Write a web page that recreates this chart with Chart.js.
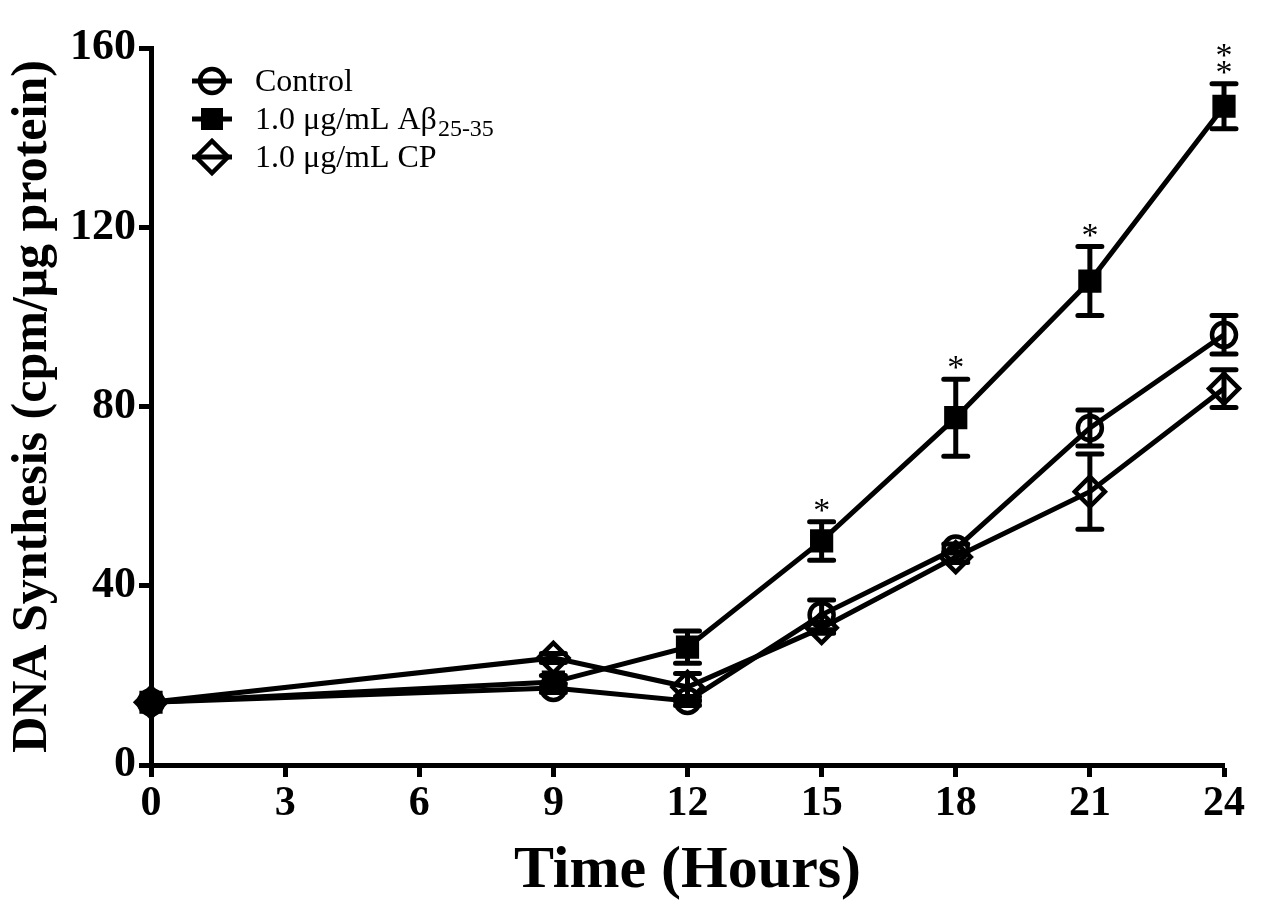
<!DOCTYPE html>
<html><head><meta charset="utf-8">
<script src="https://cdn.jsdelivr.net/npm/chart.js@4.4.1/dist/chart.umd.min.js"></script>
<style>html,body{margin:0;padding:0;background:#fff;} #wrap{width:1267px;height:917px;position:relative;}</style>
</head><body><div id="wrap"><canvas id="c" width="1267" height="917"></canvas></div>
<script>
// ---- data ----
const hours = [0, 9, 12, 15, 18, 21, 24];
const xTickValues = [0, 3, 6, 9, 12, 15, 18, 21, 24];
const yTickValues = [0, 40, 80, 120, 160];
const controlMean = [14, 17.2, 14.3, 33.5, 48.3, 75.2, 96];
const controlErr  = [0, 1, 1, 3.3, 1, 4, 4.3];
const abetaMean   = [14, 18.5, 26.3, 50, 77.5, 108, 147];
const abetaErr    = [0, 1.5, 3.6, 4.3, 8.6, 7.7, 5];
const cpMean      = [14, 23.9, 17.4, 30.6, 46.4, 61, 84];
const cpErr       = [0, 1, 3, 1.2, 1.2, 8.4, 4.2];
const abetaStars  = [0, 0, 0, 1, 1, 1, 2];
const seriesNames = ['Control', '1.0 \u03bcg/mL A\u03b2', '1.0 \u03bcg/mL CP'];
const abetaSubscript = '25-35';
const xTitle = 'Time (Hours)';
const yTitle = 'DNA Synthesis (cpm/\u03bcg protein)';

const FONT = '"Liberation Serif","Times New Roman",serif';
const LW = 5;
function pts(ys){ return hours.map((h,i)=>({x:h, y:ys[i]})); }

const datasets = [
  {label: seriesNames[0], data: pts(controlMean), err: controlErr, pointStyle:'circle', pointRadius:12,
   pointBorderWidth:4.5, pointBackgroundColor:'rgba(0,0,0,0)', pointBorderColor:'#000', borderColor:'#000', borderWidth:LW, clip:false},
  {label: seriesNames[1], data: pts(abetaMean), err: abetaErr, stars: abetaStars, pointStyle:'rect', pointRadius:15,
   pointBorderWidth:2, pointBackgroundColor:'#000', pointBorderColor:'#000', borderColor:'#000', borderWidth:LW, clip:false},
  {label: seriesNames[2], data: pts(cpMean), err: cpErr, pointStyle:'rectRot', pointRadius:15,
   pointBorderWidth:4.5, pointBackgroundColor:'rgba(0,0,0,0)', pointBorderColor:'#000', borderColor:'#000', borderWidth:LW, clip:false}
];

const errorBars = {
  id:'errorBars',
  beforeDatasetsDraw(chart){
    const ctx = chart.ctx, xs = chart.scales.x, ys = chart.scales.y;
    ctx.save(); ctx.strokeStyle = '#000'; ctx.lineWidth = LW;
    chart.data.datasets.forEach(ds => {
      ds.data.forEach((p,i) => {
        const e = ds.err[i]; if (!e) return;
        const x = xs.getPixelForValue(p.x);
        const yt = ys.getPixelForValue(p.y + e), yb = ys.getPixelForValue(p.y - e);
        ctx.lineCap = 'butt';
        ctx.beginPath(); ctx.moveTo(x, yt); ctx.lineTo(x, yb); ctx.stroke();
        ctx.lineCap = 'round';
        ctx.beginPath();
        ctx.moveTo(x-12, yt); ctx.lineTo(x+12, yt);
        ctx.moveTo(x-12, yb); ctx.lineTo(x+12, yb);
        ctx.stroke();
      });
    });
    ctx.restore();
  },
  afterDatasetsDraw(chart){
    const ctx = chart.ctx, xs = chart.scales.x, ys = chart.scales.y;
    ctx.save(); ctx.fillStyle = '#000'; ctx.font = '34px ' + FONT;
    ctx.textAlign = 'center'; ctx.textBaseline = 'alphabetic';
    chart.data.datasets.forEach(ds => {
      if (!ds.stars) return;
      ds.data.forEach((p,i) => {
        const n = ds.stars[i]; if (!n) return;
        const x = xs.getPixelForValue(p.x);
        const yt = ys.getPixelForValue(p.y + ds.err[i]);
        for (let k = 0; k < n; k++) {
          const cy = yt - 18 - k*17;
          ctx.fillText('*', x, cy + 17);
        }
      });
    });
    ctx.restore();
  }
};

function drawSymbol(ctx, style, x, y){
  ctx.save(); ctx.strokeStyle = '#000'; ctx.fillStyle = '#000'; ctx.lineWidth = LW;
  ctx.beginPath(); ctx.moveTo(x-20, y); ctx.lineTo(x+20, y); ctx.stroke();
  ctx.lineWidth = 4.5;
  ctx.beginPath();
  if (style === 'circle') { ctx.arc(x, y, 12, 0, Math.PI*2); ctx.stroke(); }
  else if (style === 'rect') { ctx.rect(x-11, y-11, 22, 22); ctx.fill(); }
  else { ctx.moveTo(x-16, y); ctx.lineTo(x, y-16); ctx.lineTo(x+16, y); ctx.lineTo(x, y+16); ctx.closePath(); ctx.stroke(); }
  ctx.restore();
}

const legendPlugin = {
  id:'customLegend',
  afterDraw(chart){
    const ctx = chart.ctx;
    const rows = [81, 119, 157];
    ctx.save(); ctx.fillStyle = '#000'; ctx.textAlign = 'left'; ctx.textBaseline = 'alphabetic';
    chart.data.datasets.forEach((ds, i) => {
      drawSymbol(ctx, ds.pointStyle, 212, rows[i]);
      ctx.font = '32px ' + FONT;
      ctx.fillText(ds.label, 255, rows[i] + 10);
      if (i === 1) {
        const w = ctx.measureText(ds.label).width;
        ctx.font = '24px ' + FONT;
        ctx.fillText(abetaSubscript, 255 + w + 1, rows[i] + 17);
      }
    });
    ctx.restore();
  }
};

new Chart(document.getElementById('c'), {
  type: 'line',
  data: { datasets },
  options: {
    responsive: false,
    animation: false,
    layout: { padding: { top: 48, right: 43, left: 0, bottom: 10 } },
    plugins: { legend: { display:false }, tooltip: { enabled:false } },
    elements: { line: { tension: 0 } },
    scales: {
      x: {
        type: 'linear', min: 0, max: 24,
        afterBuildTicks(s){ s.ticks = xTickValues.map(v => ({value: v})); },
        afterFit(s){ s.height = 917 - 765 - 10; },
        border: { display:true, color:'#000', width:LW },
        grid: { display:true, drawOnChartArea:false, drawTicks:true, tickLength:12, tickWidth:LW, tickColor:'#000', color:'#000' },
        ticks: { color:'#000', padding:2, maxRotation:0, autoSkip:false, font:{ family: FONT, size: 42, weight:'bold' } },
        title: { display:true, text: xTitle, color:'#000', padding:{top:0,bottom:0}, font:{ family: FONT, size: 60, weight:'bold' } }
      },
      y: {
        min: 0, max: 160,
        afterBuildTicks(s){ s.ticks = yTickValues.map(v => ({value: v})); },
        afterFit(s){ s.width = 151; },
        border: { display:true, color:'#000', width:LW },
        grid: { display:true, drawOnChartArea:false, drawTicks:true, tickLength:12, tickWidth:LW, tickColor:'#000', color:'#000' },
        ticks: { color:'#000', padding:3, font:{ family: FONT, size: 44, weight:'bold' } },
        title: { display:true, text: yTitle, color:'#000', padding:{top:3,bottom:0}, font:{ family: FONT, size: 50, weight:'bold' } }
      }
    }
  },
  plugins: [errorBars, legendPlugin]
});
</script>
</body></html>
